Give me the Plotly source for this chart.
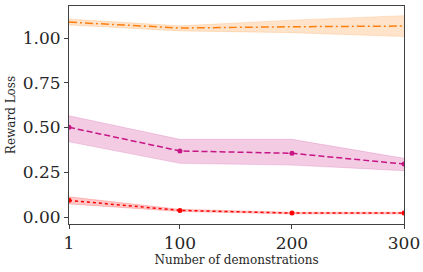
import plotly.graph_objects as go

x = [1, 100, 200, 300]

orange_mean = [1.089, 1.056, 1.063, 1.067]
orange_lo = [1.073, 1.040, 1.030, 1.008]
orange_hi = [1.106, 1.068, 1.100, 1.125]

magenta_mean = [0.501, 0.369, 0.356, 0.296]
magenta_lo = [0.420, 0.300, 0.290, 0.259]
magenta_hi = [0.566, 0.434, 0.434, 0.328]

red_mean = [0.093, 0.037, 0.022, 0.022]
red_lo = [0.073, 0.031, 0.017, 0.017]
red_hi = [0.113, 0.043, 0.027, 0.027]

x_ticks = [1, 100, 200, 300]
y_ticks = [0.0, 0.25, 0.5, 0.75, 1.0]

FONT = "DejaVu Serif"
fig = go.Figure()


def add_series(mean, lo, hi, color, fill, dash, markers):
    fig.add_trace(go.Scatter(x=x, y=hi, mode="lines", line=dict(width=0.8, color=fill),
                             showlegend=False, hoverinfo="skip"))
    fig.add_trace(go.Scatter(x=x, y=lo, mode="lines", line=dict(width=0.8, color=fill),
                             fill="tonexty", fillcolor=fill, showlegend=False, hoverinfo="skip"))
    fig.add_trace(go.Scatter(x=x, y=mean, mode="lines+markers" if markers else "lines",
                             line=dict(color=color, width=1.5, dash=dash),
                             marker=dict(size=5, color=color), showlegend=False))


add_series(orange_mean, orange_lo, orange_hi, "#ff7f0e", "rgba(255,127,14,0.22)", "8px,3px,2px,3px", False)
add_series(magenta_mean, magenta_lo, magenta_hi, "#c71585", "rgba(199,21,133,0.22)", "6px,3px", True)
add_series(red_mean, red_lo, red_hi, "#ff0000", "rgba(255,0,0,0.22)", "dot", True)

axis_common = dict(showgrid=False, zeroline=False, showline=True, linecolor="#404040",
                   linewidth=1, mirror=True, ticks="outside", ticklen=4, tickcolor="#404040",
                   automargin=False,
                   tickfont=dict(family=FONT, size=17, color="#262626"))

fig.update_xaxes(range=[1, 300], tickvals=x_ticks, ticktext=[str(t) for t in x_ticks],
                 title=dict(text="Number of demonstrations", font=dict(family=FONT, size=12, color="#262626"),
                            standoff=2),
                 **axis_common)
fig.update_yaxes(range=[-0.039, 1.179], tickvals=y_ticks, ticktext=["%.2f" % t for t in y_ticks],
                 title=dict(text="Reward Loss", font=dict(family=FONT, size=12, color="#262626"),
                            standoff=4),
                 **axis_common)

fig.update_layout(width=423, height=272, margin=dict(l=69, r=19, t=6, b=48),
                  plot_bgcolor="white", paper_bgcolor="white")

fig.write_html("out.html", config={"displayModeBar": False},
               post_script="document.body.style.margin='0';document.body.style.padding='0';")
